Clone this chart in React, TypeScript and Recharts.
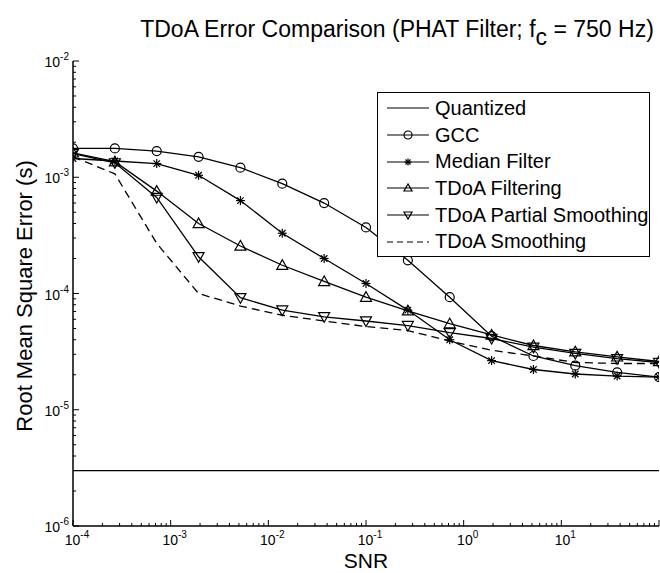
import React from 'react'
import { LineChart, Line, XAxis, YAxis, Legend } from 'recharts'

// SNR sample points (log spaced)
const snr = [1e-4, 2.683e-4, 7.197e-4, 1.931e-3, 5.179e-3, 1.389e-2, 3.728e-2, 0.1, 0.2683, 0.7197, 1.931, 5.179, 13.89, 37.28, 100]

// RMS error (s) per method
const quantized = [3.0e-6, 3.0e-6, 3.0e-6, 3.0e-6, 3.0e-6, 3.0e-6, 3.0e-6, 3.0e-6, 3.0e-6, 3.0e-6, 3.0e-6, 3.0e-6, 3.0e-6, 3.0e-6, 3.0e-6]
const gcc = [1.77e-3, 1.77e-3, 1.68e-3, 1.5e-3, 1.21e-3, 8.8e-4, 6.0e-4, 3.7e-4, 1.93e-4, 9.3e-5, 4.3e-5, 2.9e-5, 2.4e-5, 2.1e-5, 1.91e-5]
const medianFilter = [1.45e-3, 1.38e-3, 1.31e-3, 1.04e-3, 6.3e-4, 3.3e-4, 2.0e-4, 1.22e-4, 7.2e-5, 4.0e-5, 2.65e-5, 2.22e-5, 2.03e-5, 1.95e-5, 1.91e-5]
const tdoaFiltering = [1.62e-3, 1.36e-3, 7.6e-4, 4.0e-4, 2.56e-4, 1.75e-4, 1.27e-4, 9.3e-5, 7.1e-5, 5.5e-5, 4.4e-5, 3.57e-5, 3.15e-5, 2.85e-5, 2.6e-5]
const partialSmoothing = [1.6e-3, 1.33e-3, 6.7e-4, 2.07e-4, 9.2e-5, 7.2e-5, 6.3e-5, 5.8e-5, 5.3e-5, 4.6e-5, 4.1e-5, 3.45e-5, 3.05e-5, 2.75e-5, 2.55e-5]
const tdoaSmoothing = [1.5e-3, 1.07e-3, 2.7e-4, 1.0e-4, 7.8e-5, 6.5e-5, 5.8e-5, 5.2e-5, 4.8e-5, 3.9e-5, 3.25e-5, 2.9e-5, 2.55e-5, 2.5e-5, 2.5e-5]

// ticks
const xDecades = [1e-4, 1e-3, 1e-2, 1e-1, 1, 10, 100]
const xExponents = ['-4', '-3', '-2', '-1', '0', '1', '']
const yDecades = [1e-6, 1e-5, 1e-4, 1e-3, 1e-2]
const yExponents = ['-6', '-5', '-4', '-3', '-2']
const minorSteps = [2, 3, 4, 5, 6, 7, 8, 9]

const FONT = '"Liberation Sans", Arial, Helvetica, sans-serif'

const withMinors = (decades: number[]) => {
    const out: number[] = []
    decades.forEach((d, i) => {
        out.push(d)
        if (i < decades.length - 1) minorSteps.forEach(m => out.push(d * m))
    })
    return out
}
const xTicks = withMinors(xDecades)
const yTicks = withMinors(yDecades)

const majorIndex = (decades: number[], v: number) =>
    decades.findIndex(d => Math.abs(Math.log10(d) - Math.log10(v)) < 1e-6)

const data = snr.map((s, i) => ({
    snr: s,
    quantized: quantized[i],
    gcc: gcc[i],
    median: medianFilter[i],
    filtering: tdoaFiltering[i],
    partial: partialSmoothing[i],
    smoothing: tdoaSmoothing[i],
}))

type MarkerKind = 'none' | 'circle' | 'star' | 'up' | 'down'

const Marker = ({ kind, cx, cy, s }: { kind: MarkerKind, cx: number, cy: number, s: number }) => {
    const st = { stroke: '#000', strokeWidth: 1.2, fill: 'none' }
    if (kind === 'circle') return <circle cx={cx} cy={cy} r={s} {...st} />
    if (kind === 'up') return <polygon points={`${cx},${cy - s} ${cx - s},${cy + s * 0.75} ${cx + s},${cy + s * 0.75}`} {...st} />
    if (kind === 'down') return <polygon points={`${cx},${cy + s} ${cx - s},${cy - s * 0.75} ${cx + s},${cy - s * 0.75}`} {...st} />
    if (kind === 'star') {
        const d = s * 0.72
        return (
            <g {...st}>
                <line x1={cx - s} x2={cx + s} y1={cy} y2={cy} />
                <line x1={cx} x2={cx} y1={cy - s} y2={cy + s} />
                <line x1={cx - d} x2={cx + d} y1={cy - d} y2={cy + d} />
                <line x1={cx - d} x2={cx + d} y1={cy + d} y2={cy - d} />
            </g>
        )
    }
    return null
}

const dotOf = (kind: MarkerKind, s: number) => (p: any) => (
    <g key={`${kind}-${p.index}`}><Marker kind={kind} cx={p.cx} cy={p.cy} s={s} /></g>
)

const XTick = ({ x, y, payload }: any) => {
    const i = majorIndex(xDecades, payload.value)
    const major = i >= 0
    return (
        <g>
            <line x1={x} x2={x} y1={y} y2={y - (major ? 6 : 3)} stroke="#000" strokeWidth={1} />
            {major && xExponents[i] !== '' && (
                <text x={x + 4} y={y + 19} textAnchor="middle" fontSize={14} fontFamily={FONT} fill="#000">
                    10<tspan dy={-7} fontSize={10}>{xExponents[i]}</tspan>
                </text>
            )}
        </g>
    )
}

const YTick = ({ x, y, payload }: any) => {
    const i = majorIndex(yDecades, payload.value)
    const major = i >= 0
    return (
        <g>
            <line x1={x} x2={x + (major ? 6 : 3)} y1={y} y2={y} stroke="#000" strokeWidth={1} />
            {major && (
                <text x={x - 4} y={y + 6} textAnchor="end" fontSize={14} fontFamily={FONT} fill="#000">
                    10<tspan dy={-7} fontSize={10}>{yExponents[i]}</tspan>
                </text>
            )}
        </g>
    )
}

const legendItems: { name: string, kind: MarkerKind, dash?: string }[] = [
    { name: 'Quantized', kind: 'none' },
    { name: 'GCC', kind: 'circle' },
    { name: 'Median Filter', kind: 'star' },
    { name: 'TDoA Filtering', kind: 'up' },
    { name: 'TDoA Partial Smoothing', kind: 'down' },
    { name: 'TDoA Smoothing', kind: 'none', dash: '6 4' },
]

const LegendBox = () => (
    <div style={{
        width: 273, height: 165, border: '1.3px solid #000', background: '#fff',
        boxSizing: 'border-box', paddingTop: 2, fontFamily: FONT, fontSize: 20, color: '#000'
    }}>
        {legendItems.map(it => (
            <div key={it.name} style={{ display: 'flex', alignItems: 'center', height: 26.7 }}>
                <svg width={57} height={20} style={{ flex: 'none' }}>
                    <line x1={9} x2={51} y1={10} y2={10} stroke="#000" strokeWidth={1.2} strokeDasharray={it.dash} />
                    <Marker kind={it.kind} cx={30} cy={10} s={it.kind === 'star' ? 3.5 : 4} />
                </svg>
                <span style={{ whiteSpace: 'nowrap' }}>{it.name}</span>
            </div>
        ))}
    </div>
)

const YLabel = () => (
    <text x={32} y={296} transform="rotate(-90, 32, 296)" textAnchor="middle" fontSize={22} fontFamily={FONT} fill="#000">
        Root Mean Square Error (s)
    </text>
)

const XLabel = ({ viewBox }: any) => (
    <text x={viewBox.x + viewBox.width / 2} y={viewBox.y + 42} textAnchor="middle" fontSize={21} fontFamily={FONT} fill="#000">
        SNR
    </text>
)

export default function App() {
    return (
        <div style={{ position: 'absolute', left: 0, top: 0, width: 660, height: 573, background: '#fff', overflow: 'hidden' }}>
            <div style={{
                position: 'absolute', top: 18, left: 397, transform: 'translateX(-50%)', whiteSpace: 'nowrap',
                fontFamily: FONT, fontSize: 23, lineHeight: '23px', color: '#000'
            }}>
                TDoA Error Comparison (PHAT Filter; f<span style={{ position: 'relative', top: 8 }}>c</span> = 750 Hz)
            </div>
            <LineChart width={660} height={573} data={data} margin={{ top: 61, right: 1, bottom: 0, left: 0 }}>
                <XAxis
                    dataKey="snr"
                    type="number"
                    scale="log"
                    domain={[1e-4, 100]}
                    ticks={xTicks}
                    interval={0}
                    tickSize={0}
                    tickMargin={0}
                    tick={<XTick />}
                    height={47}
                    axisLine={{ stroke: '#000', strokeWidth: 1.5 }}
                    allowDataOverflow
                    label={<XLabel />}
                />
                <YAxis
                    type="number"
                    scale="log"
                    domain={[1e-6, 1e-2]}
                    ticks={yTicks}
                    interval={0}
                    tickSize={0}
                    tickMargin={0}
                    tick={<YTick />}
                    width={73}
                    axisLine={{ stroke: '#000', strokeWidth: 1.5 }}
                    allowDataOverflow
                    label={<YLabel />}
                />
                <Legend
                    layout="vertical"
                    align="center"
                    verticalAlign="middle"
                    content={<LegendBox />}
                    wrapperStyle={{ left: 377, top: 92, width: 273, height: 165 }}
                />
                <Line dataKey="quantized" stroke="#000" strokeWidth={1.3} dot={false} isAnimationActive={false} />
                <Line dataKey="gcc" stroke="#000" strokeWidth={1.3} dot={dotOf('circle', 4.5)} isAnimationActive={false} />
                <Line dataKey="median" stroke="#000" strokeWidth={1.3} dot={dotOf('star', 4.5)} isAnimationActive={false} />
                <Line dataKey="filtering" stroke="#000" strokeWidth={1.3} dot={dotOf('up', 5.5)} isAnimationActive={false} />
                <Line dataKey="partial" stroke="#000" strokeWidth={1.3} dot={dotOf('down', 5.5)} isAnimationActive={false} />
                <Line dataKey="smoothing" stroke="#000" strokeWidth={1.3} strokeDasharray="8 5" dot={false} isAnimationActive={false} />
            </LineChart>
        </div>
    )
}
